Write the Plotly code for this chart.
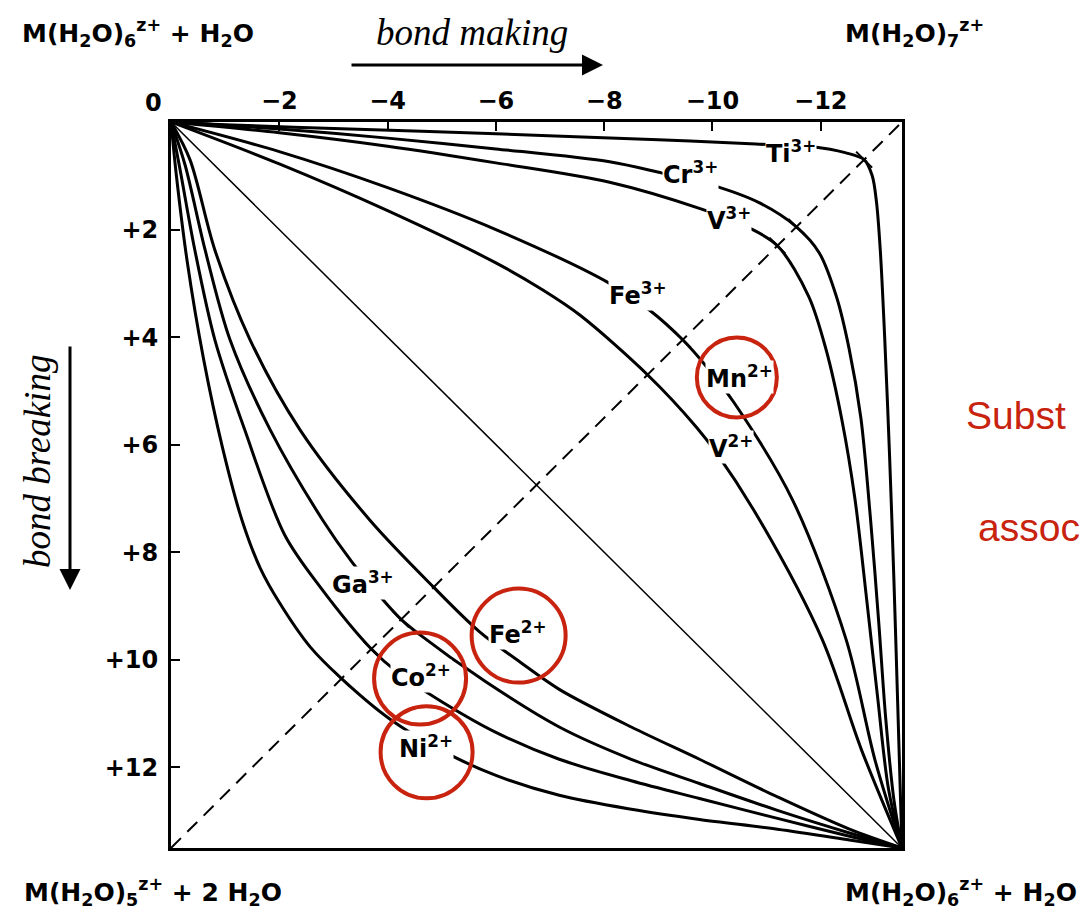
import plotly.graph_objects as go

# ---------------- data (bond making = x, bond breaking = y) ----------------
x_tick_vals = [-2, -4, -6, -8, -10, -12]
x_tick_text = ["\u22122", "\u22124", "\u22126", "\u22128", "\u221210", "\u221212"]
y_tick_vals = [2, 4, 6, 8, 10, 12]
y_tick_text = ["+2", "+4", "+6", "+8", "+10", "+12"]

ions = ["Ti3+", "Cr3+", "V3+", "Fe3+/Mn2+", "V2+", "Ga3+", "Fe2+", "Co2+", "Ni2+"]

ti3_make = [0, 1, 3, 6, 9, 10.8, 11.85, 12.45, 12.8, 12.95, 13.03, 13.1, 13.18, 13.27, 13.35, 13.42, 13.47, 13.5]
ti3_break = [0, 0.05, 0.12, 0.22, 0.33, 0.41, 0.46, 0.57, 0.7, 1.0, 1.5, 2.4, 4.0, 6.2, 8.5, 10.8, 12.5, 13.5]

cr3_make = [0, 2, 4, 6, 8.1, 9.07, 9.98, 10.86, 11.55, 11.97, 12.29, 12.52, 12.74, 12.92, 13.07, 13.2, 13.35, 13.5]
cr3_break = [0, 0.13, 0.3, 0.5, 0.74, 0.95, 1.17, 1.5, 1.95, 2.43, 3.25, 4.2, 5.5, 7.4, 9.3, 11.1, 12.6, 13.5]

v3_make = [0, 2, 4, 6, 8.1, 9.8, 10.64, 11.2, 11.78, 12.1, 12.39, 12.63, 12.85, 13.05, 13.25, 13.5]
v3_break = [0, 0.2, 0.45, 0.76, 1.12, 1.62, 1.95, 2.3, 3.25, 4.24, 5.54, 7.0, 8.9, 10.7, 12.4, 13.5]

fe3_make = [0, 2, 4, 6, 8.1, 8.84, 9.45, 9.89, 10.4, 11.48, 12.47, 13.0, 13.5]
fe3_break = [0, 0.55, 1.22, 2.0, 3.0, 3.5, 4.05, 4.55, 5.22, 7.03, 9.63, 11.86, 13.5]

v2_make = [0, 2, 4, 6, 6.86, 7.55, 8.8, 9.7, 10.07, 10.87, 12.03, 12.75, 13.5]
v2_break = [0, 0.78, 1.65, 2.62, 3.12, 3.59, 4.7, 5.67, 6.15, 7.4, 9.63, 11.67, 13.5]

ga3_make = [0, 0.26, 0.63, 1.09, 1.83, 2.8, 3.34, 3.91, 4.25, 4.55, 5.8, 7.17, 8.5, 9.76, 11.2, 12.53, 13.5]
ga3_break = [0, 0.8, 2.38, 4.05, 5.72, 7.4, 8.18, 8.88, 9.25, 9.5, 10.4, 11.25, 11.85, 12.3, 12.8, 13.22, 13.5]

fe2_make = [0, 0.35, 0.81, 1.46, 2.38, 3.67, 4.85, 5.7, 6.47, 7.17, 8.5, 9.76, 11.2, 12.53, 13.5]
fe2_break = [0, 0.7, 2.38, 4.05, 5.72, 7.4, 8.65, 9.48, 10.06, 10.55, 11.25, 11.85, 12.55, 13.15, 13.5]

co2_make = [0, 0.17, 0.44, 0.81, 1.36, 2.1, 2.75, 3.7, 4.19, 5.0, 6.0, 7.17, 8.5, 9.76, 11.2, 12.53, 13.5]
co2_break = [0, 0.9, 2.38, 4.05, 5.72, 7.68, 8.64, 9.8, 10.24, 10.78, 11.35, 11.85, 12.25, 12.58, 12.95, 13.28, 13.5]

ni2_make = [0, 0.1, 0.3, 0.6, 0.95, 1.31, 1.65, 2.01, 2.57, 3.15, 4.04, 5.02, 6.0, 7.17, 8.5, 9.76, 11.2, 12.53, 13.5]
ni2_break = [0, 1.0, 2.6, 4.4, 6.05, 7.4, 8.3, 8.95, 9.76, 10.35, 11.1, 11.7, 12.15, 12.52, 12.78, 12.97, 13.15, 13.35, 13.5]

# activation volumes (cm3/mol) = bond making + bond breaking at the dashed line
activation_volume = [-12.1, -9.6, -8.9, -5.4, -4.1, 5.0, 3.8, 6.1, 7.2]

corner = 13.5

curves = [
    (ti3_make, ti3_break), (cr3_make, cr3_break), (v3_make, v3_break),
    (fe3_make, fe3_break), (v2_make, v2_break), (ga3_make, ga3_break),
    (fe2_make, fe2_break), (co2_make, co2_break), (ni2_make, ni2_break),
]

fig = go.Figure()

# thin straight diagonal
fig.add_trace(go.Scatter(x=[0, -corner], y=[0, corner], mode="lines",
                         line=dict(color="black", width=1.5), hoverinfo="skip"))
# dashed anti-diagonal
fig.add_trace(go.Scatter(x=[0, -corner], y=[corner, 0], mode="lines",
                         line=dict(color="black", width=2, dash="14px,9px"), hoverinfo="skip"))

for name, (mk, br) in zip(ions, curves):
    fig.add_trace(go.Scatter(x=[-v for v in mk], y=br, mode="lines", name=name,
                             line=dict(color="black", width=3, shape="spline", smoothing=0.9),
                             hoverinfo="skip"))

# cross ticks where curves meet the dashed line
cross_make = [(corner - dv) / 2 for dv in activation_volume]
cross_break = [(corner + dv) / 2 for dv in activation_volume]
fig.add_trace(go.Scatter(x=[-v for v in cross_make], y=cross_break, mode="markers",
                         marker=dict(symbol="line-nw", size=16, line=dict(color="black", width=2)),
                         hoverinfo="skip"))

LABEL_FONT = dict(family="DejaVu Sans", size=24, color="black", weight="bold")

# ion labels (positions in data units)
ion_labels = [
    ("Ti<sup>3+</sup>", -11.45, 0.55),
    ("Cr<sup>3+</sup>", -9.6, 0.95),
    ("V<sup>3+</sup>", -10.3, 1.8),
    ("Fe<sup>3+</sup>", -8.62, 3.2),
    ("Mn<sup>2+</sup>", -10.5, 4.75),
    ("V<sup>2+</sup>", -10.35, 6.05),
    ("Ga<sup>3+</sup>", -3.55, 8.58),
    ("Fe<sup>2+</sup>", -6.4, 9.5),
    ("Co<sup>2+</sup>", -4.62, 10.3),
    ("Ni<sup>2+</sup>", -4.7, 11.62),
]
for txt, lx, ly in ion_labels:
    fig.add_annotation(x=lx, y=ly, xref="x", yref="y", text=txt, showarrow=False,
                       xanchor="center", yanchor="middle",
                       font=LABEL_FONT, bgcolor="white", borderpad=0)

# red circles
red = "#C8230F"
circles = [(-10.45, 4.75, 40), (-6.42, 9.55, 47), (-4.6, 10.35, 46), (-4.72, 11.72, 46)]
for cx, cy, r in circles:
    fig.add_shape(type="circle", xref="x", yref="y", xsizemode="pixel", ysizemode="pixel",
                  xanchor=cx, yanchor=cy, x0=-r, x1=r, y0=-r, y1=r,
                  line=dict(color=red, width=4))

# page geometry helpers (paper coordinates)
W, H = 1081, 913
L, R, T, B = 171, 179, 122, 65
pw, ph = W - L - R, H - T - B


def px(xp):
    return (xp - L) / pw


def py(yp):
    return (H - B - yp) / ph


FORM_FONT = dict(family="DejaVu Sans", size=25, color="black", weight="bold")
corner_labels = [
    ("M(H<sub>2</sub>O)<sub>6</sub><sup>z+</sup> + H<sub>2</sub>O", 20, 33),
    ("M(H<sub>2</sub>O)<sub>7</sub><sup>z+</sup>", 843, 33),
    ("M(H<sub>2</sub>O)<sub>5</sub><sup>z+</sup> + 2 H<sub>2</sub>O", 22, 892),
    ("M(H<sub>2</sub>O)<sub>6</sub><sup>z+</sup> + H<sub>2</sub>O", 843, 892),
]
for txt, xx, yy in corner_labels:
    fig.add_annotation(x=px(xx), y=py(yy), xref="paper", yref="paper", text=txt,
                       showarrow=False, xanchor="left", yanchor="middle", font=FORM_FONT)

# corner zero
fig.add_annotation(x=px(153), y=py(103), xref="paper", yref="paper", text="0",
                   showarrow=False, xanchor="center", yanchor="middle", font=LABEL_FONT)

ITAL = dict(family="Liberation Serif", size=37, color="black", style="italic")
fig.add_annotation(x=px(472), y=py(33), xref="paper", yref="paper", text="bond making",
                   showarrow=False, xanchor="center", yanchor="middle", font=ITAL)
fig.add_annotation(x=px(603), y=py(65), xref="paper", yref="paper", text="",
                   showarrow=True, ax=-253, ay=0, arrowhead=2, arrowsize=1.4,
                   arrowwidth=3, arrowcolor="black")
fig.add_annotation(x=px(38), y=py(462), xref="paper", yref="paper", text="bond breaking",
                   showarrow=False, xanchor="center", yanchor="middle", font=ITAL, textangle=-90)
fig.add_annotation(x=px(70), y=py(590), xref="paper", yref="paper", text="",
                   showarrow=True, ax=0, ay=-245, arrowhead=2, arrowsize=1.4,
                   arrowwidth=3, arrowcolor="black")

RED_FONT = dict(family="Liberation Sans", size=39, color=red)
fig.add_annotation(x=px(964), y=py(415), xref="paper", yref="paper", text="Subst",
                   showarrow=False, xanchor="left", yanchor="middle", font=RED_FONT)
fig.add_annotation(x=px(976), y=py(527), xref="paper", yref="paper", text="assoc",
                   showarrow=False, xanchor="left", yanchor="middle", font=RED_FONT)

fig.update_layout(
    width=W, height=H, margin=dict(l=L, r=R, t=T, b=B),
    paper_bgcolor="white", plot_bgcolor="white", showlegend=False,
)
fig.update_xaxes(range=[0, -corner], side="top", tickvals=x_tick_vals, ticktext=x_tick_text,
                 ticks="inside", ticklen=9, tickwidth=2, tickcolor="black",
                 showline=True, linecolor="black", linewidth=3, mirror=True,
                 showgrid=False, zeroline=False, tickfont=LABEL_FONT, ticklabelstandoff=0)
fig.update_yaxes(range=[corner, 0], tickvals=y_tick_vals, ticktext=y_tick_text,
                 ticks="inside", ticklen=9, tickwidth=2, tickcolor="black",
                 showline=True, linecolor="black", linewidth=3, mirror=True,
                 showgrid=False, zeroline=False, tickfont=LABEL_FONT, ticklabelstandoff=5)

fig.write_html("out.html")
